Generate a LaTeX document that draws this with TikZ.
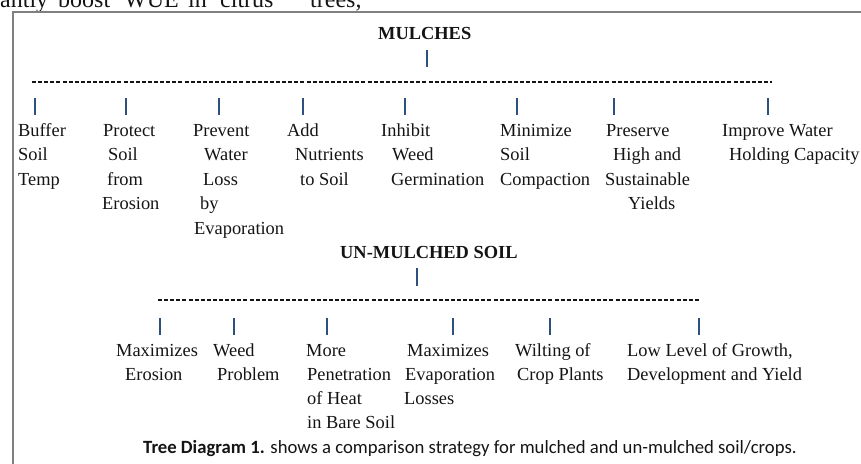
\documentclass[tikz,border=0pt]{standalone}
\usepackage{fontspec}
\setmainfont{Liberation Serif}
\newfontfamily\capfont{Carlito}
\definecolor{barc}{RGB}{45,80,125}
\definecolor{framec}{RGB}{128,128,128}
\definecolor{inkc}{RGB}{20,20,20}
\tikzset{
  lbl/.style={anchor=base west, inner sep=0pt, text=inkc, font=\fontsize{18.4}{24.5}\selectfont},
  head/.style={lbl, font=\fontsize{18.4}{24.5}\selectfont\bfseries},
  pageword/.style={anchor=base west, inner sep=0pt, text=inkc, font=\fontsize{24}{26}\selectfont},
  barline/.style={draw=barc, line width=1.3pt},
  hyph/.style={draw=inkc, line width=1.4pt, dash pattern=on 4pt off 2.1pt},
  framel/.style={draw=framec, line width=2pt},
}
\begin{document}
\begin{tikzpicture}[x=1pt,y=-1pt]
\useasboundingbox (0,0) rectangle (861,463);
\clip (0,0) rectangle (861,463);

% clipped line of page text above the frame
\foreach \n/\x/\t in {pw1/0/antly, pw2/58/boost, pw3/124/WUE, pw4/188/in, pw5/220/citrus, pw6/310/{trees,}}{
  \node[pageword] (\n) at (\x,8) {\t};
}

% frame
\coordinate (fbl) at (13,480);
\coordinate (ftl) at (13,12);
\coordinate (ftr) at (880,12);
\draw[framel] (fbl) -- (ftl) -- (ftr);

% ---------- MULCHES ----------
\node[head] (mulches) at (378,39) {MULCHES};
\coordinate (mt) at (427,50);
\coordinate (mb) at (427,67);
\draw[barline] (mt) -- (mb);
\coordinate (d1l) at (32,82);
\coordinate (d1r) at (772,82);
\draw[hyph] (d1l) -- (d1r);

\foreach \i/\x in {1/35,2/126,3/219,4/303,5/405,6/517,7/614,8/768}{
  \coordinate (ta\i) at (\x,98);
  \coordinate (tb\i) at (\x,115);
  \draw[barline] (ta\i) -- (tb\i);
}

\foreach \n/\x/\y/\t in {
  b1a/18/136/Buffer, b1b/18/160.5/Soil, b1c/18/185/Temp,
  b2a/103/136/Protect, b2b/108/160.5/Soil, b2c/107/185/from, b2d/102/209.5/Erosion,
  b3a/193/136/Prevent, b3b/204/160.5/Water, b3c/203/185/Loss, b3d/200/209.5/by, b3e/194/234/Evaporation,
  b4a/287/136/Add, b4b/295/160.5/Nutrients, b4c/300/185/to Soil,
  b5a/381/136/Inhibit, b5b/392/160.5/Weed, b5c/391/185/Germination,
  b6a/500/136/Minimize, b6b/500/160.5/Soil, b6c/500/185/Compaction,
  b7a/606/136/Preserve, b7b/613/160.5/High and, b7c/605/185/Sustainable, b7d/628/209.5/Yields,
  b8a/722/136/Improve Water, b8b/729/160.5/Holding Capacity}{
  \node[lbl] (\n) at (\x,\y) {\t};
}

% ---------- UN-MULCHED SOIL ----------
\node[head] (unmulched) at (340,258) {UN-MULCHED SOIL};
\coordinate (ut) at (417,268);
\coordinate (ub) at (417,286);
\draw[barline] (ut) -- (ub);
\coordinate (d2l) at (158,300);
\coordinate (d2r) at (700,300);
\draw[hyph] (d2l) -- (d2r);

\foreach \i/\x in {1/160,2/234,3/327,4/453,5/550,6/699}{
  \coordinate (ua\i) at (\x,318);
  \coordinate (ubb\i) at (\x,335);
  \draw[barline] (ua\i) -- (ubb\i);
}

\foreach \n/\x/\y/\t in {
  u1a/116/356/Maximizes, u1b/125/380/Erosion,
  u2a/213/356/Weed, u2b/217/380/Problem,
  u3a/306/356/More, u3b/307/380/Penetration, u3c/307/404/of Heat, u3d/307/428/in Bare Soil,
  u4a/407/356/Maximizes, u4b/405/380/Evaporation, u4c/404/404/Losses,
  u5a/515/356/Wilting of, u5b/517/380/Crop Plants,
  u6a/627/356/{Low Level of Growth,}, u6b/627/380/Development and Yield}{
  \node[lbl] (\n) at (\x,\y) {\t};
}

% caption
\node[anchor=base west, inner sep=0pt, text=inkc, font=\capfont\fontsize{18.7}{21}\selectfont] (caption) at (143,453)
  {\textbf{Tree Diagram 1.} shows a comparison strategy for mulched and un-mulched soil/crops.};
\end{tikzpicture}
\end{document}
